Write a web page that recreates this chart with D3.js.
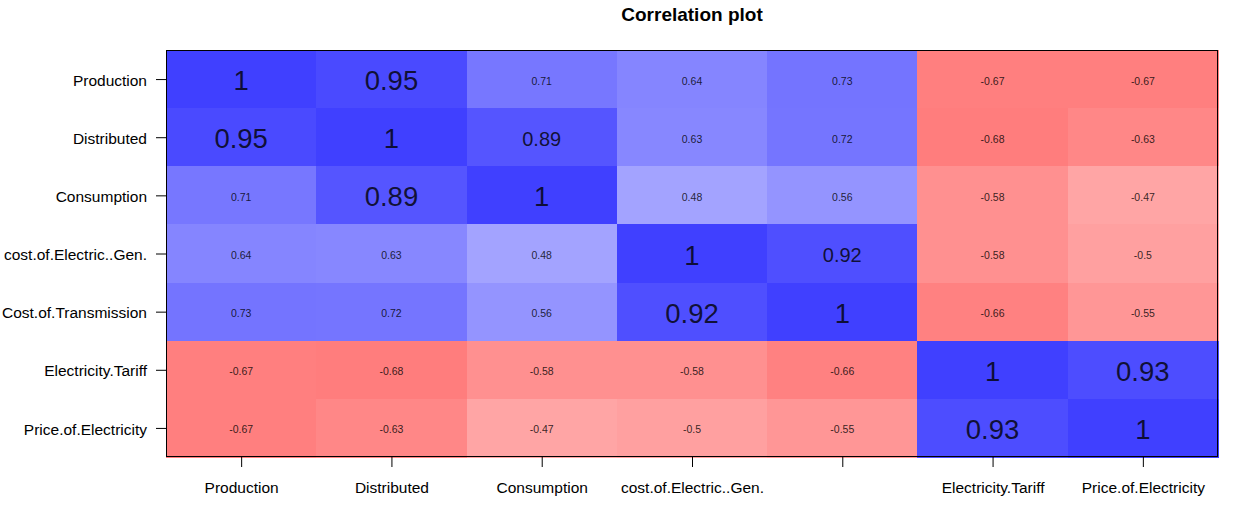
<!DOCTYPE html>
<html>
<head>
<meta charset="utf-8">
<script src="https://cdn.jsdelivr.net/npm/d3@7"></script>
<style>
  html, body { margin: 0; padding: 0; background: #fff; }
  svg { display: block; font-family: "Liberation Sans", Arial, sans-serif; }
</style>
</head>
<body>
<svg id="chart" width="1238" height="509"></svg>
<script>
// ---- data ----
const variables = ["Production", "Distributed", "Consumption", "cost.of.Electric..Gen.",
                   "Cost.of.Transmission", "Electricity.Tariff", "Price.of.Electricity"];
const xTickLabels = ["Production", "Distributed", "Consumption", "cost.of.Electric..Gen.",
                     "", "Electricity.Tariff", "Price.of.Electricity"];
const rowProduction   = [1, 0.95, 0.71, 0.64, 0.73, -0.67, -0.67];
const rowDistributed  = [0.95, 1, 0.89, 0.63, 0.72, -0.68, -0.63];
const rowConsumption  = [0.71, 0.89, 1, 0.48, 0.56, -0.58, -0.47];
const rowCostGen      = [0.64, 0.63, 0.48, 1, 0.92, -0.58, -0.5];
const rowCostTrans    = [0.73, 0.72, 0.56, 0.92, 1, -0.66, -0.55];
const rowTariff       = [-0.67, -0.68, -0.58, -0.58, -0.66, 1, 0.93];
const rowPrice        = [-0.67, -0.63, -0.47, -0.5, -0.55, 0.93, 1];
const corr = [rowProduction, rowDistributed, rowConsumption, rowCostGen, rowCostTrans, rowTariff, rowPrice];

// label size class per cell (style): 0 small, 1 medium, 2 large
const labelSizeClass = [
  [2,2,0,0,0,0,0],
  [2,2,1,0,0,0,0],
  [0,2,2,0,0,0,0],
  [0,0,0,2,1,0,0],
  [0,0,0,2,2,0,0],
  [0,0,0,0,0,2,2],
  [0,0,0,0,0,2,2]
];
const sizePx = [10.5, 20, 27.5];

// ---- layout ----
const svg = d3.select("#chart");
const mLeft = 166, mRight = 1218, mTop = 50, mBottom = 457;

const x = d3.scaleBand().domain(d3.range(variables.length)).range([mLeft, mRight]).padding(0);
const y = d3.scaleBand().domain(d3.range(variables.length)).range([mTop, mBottom]).padding(0);

const color = d3.scaleLinear()
  .domain([-1, 0, 1])
  .range(["rgb(255,64,64)", "rgb(255,255,255)", "rgb(64,64,255)"])
  .interpolate(d3.interpolateRgb);

const cells = [];
corr.forEach((row, r) => row.forEach((v, c) => cells.push({ r, c, v })));

svg.append("g").selectAll("rect")
  .data(cells).join("rect")
  .attr("x", d => x(d.c))
  .attr("y", d => y(d.r))
  .attr("width", x.bandwidth() + 0.5)
  .attr("height", y.bandwidth() + 0.5)
  .attr("fill", d => color(d.v))
  .attr("shape-rendering", "crispEdges");

svg.append("g").selectAll("text")
  .data(cells).join("text")
  .attr("x", d => x(d.c) + x.bandwidth() / 2)
  .attr("y", d => y(d.r) + y.bandwidth() / 2 + 1.5)
  .attr("text-anchor", "middle")
  .attr("dominant-baseline", "central")
  .attr("font-size", d => sizePx[labelSizeClass[d.r][d.c]] + "px")
  .attr("fill", "rgba(0,0,0,0.8)")
  .text(d => String(d.v));

// frame
svg.append("rect")
  .attr("x", mLeft + 0.5).attr("y", mTop + 0.5)
  .attr("width", mRight - mLeft - 1).attr("height", mBottom - mTop - 1)
  .attr("fill", "none").attr("stroke", "#000").attr("stroke-width", 1);

// axes
const xPos = d3.scalePoint().domain(d3.range(variables.length)).range([x(0) + x.bandwidth()/2, x(6) + x.bandwidth()/2]);
const yPos = d3.scalePoint().domain(d3.range(variables.length)).range([y(0) + y.bandwidth()/2, y(6) + y.bandwidth()/2]);

const xAxis = svg.append("g")
  .attr("transform", `translate(0,${mBottom})`)
  .call(d3.axisBottom(xPos).tickSize(10).tickPadding(15).tickFormat(i => xTickLabels[i]));
xAxis.select(".domain").remove();
xAxis.selectAll("text").attr("font-size", "15.5px").attr("fill", "#000")
  .attr("font-family", "Liberation Sans, Arial, sans-serif");

const yAxis = svg.append("g")
  .attr("transform", `translate(${mLeft},0)`)
  .call(d3.axisLeft(yPos).tickSize(10).tickPadding(9).tickFormat(i => variables[i]));
yAxis.select(".domain").remove();
yAxis.selectAll("text").attr("font-size", "15.5px").attr("fill", "#000")
  .attr("font-family", "Liberation Sans, Arial, sans-serif")
  .attr("dy", "0.4em");

// title
svg.append("text")
  .attr("x", (mLeft + mRight) / 2)
  .attr("y", 21)
  .attr("text-anchor", "middle")
  .attr("font-size", "19px")
  .attr("font-weight", "bold")
  .text("Correlation plot");
</script>
</body>
</html>
